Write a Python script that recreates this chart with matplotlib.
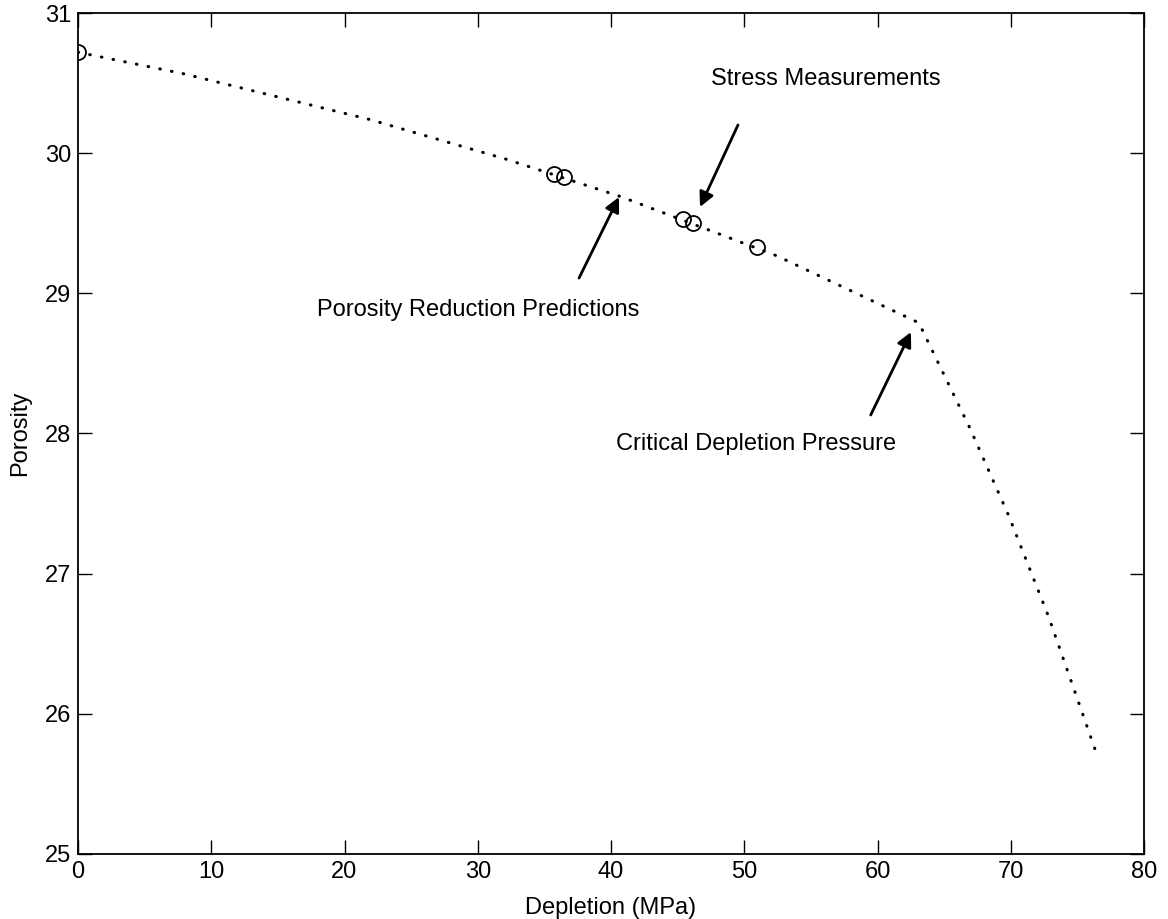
import matplotlib
matplotlib.use('Agg')
import matplotlib.pyplot as plt

plt.rcParams['font.family'] = ['Liberation Sans', 'DejaVu Sans']

# curva de prediccion de porosidad vs depletacion
depletion_pred = [0.0, 7.9, 21.9, 32.17, 40.73, 52.43, 63.1, 66.94, 69.84, 72.82, 76.37]
porosity_pred = [30.72, 30.567, 30.24, 29.956, 29.69, 29.268, 28.79, 28.037, 27.415, 26.698, 25.735]

# puntos medidos (esfuerzos)
depletion_meas = [0.0, 35.75, 36.47, 45.38, 46.13, 50.93]
porosity_meas = [30.72, 29.85, 29.83, 29.53, 29.50, 29.33]

xticks = [0, 10, 20, 30, 40, 50, 60, 70, 80]
yticks = [25, 26, 27, 28, 29, 30, 31]

fig = plt.figure(figsize=(11.68, 9.19), dpi=100)
ax = fig.add_axes([78 / 1168, 65 / 919, (1144 - 78) / 1168, (854 - 13) / 919])

ax.plot(depletion_pred, porosity_pred, color='black', linewidth=2.2,
        linestyle=(0, (0.2, 3.7)), dash_capstyle='round')
ax.plot(depletion_meas, porosity_meas, linestyle='none', marker='o', markersize=10.8,
        markerfacecolor='none', markeredgecolor='black', markeredgewidth=1.3)

# flechas y etiquetas
arrow = dict(arrowstyle='-|>', color='black', lw=2, mutation_scale=22, shrinkA=0, shrinkB=0)
ax.annotate('', xy=(46.68, 29.616), xytext=(49.53, 30.201), arrowprops=arrow)
ax.text(56.13, 30.529, 'Stress Measurements', fontsize=17, ha='center', va='center')
ax.annotate('', xy=(40.60, 29.687), xytext=(37.60, 29.109), arrowprops=arrow)
ax.text(30.02, 28.881, 'Porosity Reduction Predictions', fontsize=17, ha='center', va='center')
ax.annotate('', xy=(62.51, 28.724), xytext=(59.49, 28.132), arrowprops=arrow)
ax.text(50.88, 27.925, 'Critical Depletion Pressure', fontsize=17, ha='center', va='center')

ax.set_xlim(0, 80)
ax.set_ylim(25, 31)
ax.set_xticks(xticks)
ax.set_yticks(yticks)
ax.tick_params(direction='in', length=10, width=1, top=True, right=True, labelsize=17, pad=5)
for s in ax.spines.values():
    s.set_linewidth(1.3)

ax.set_xlabel('Depletion (MPa)', fontsize=17, labelpad=10)
ax.set_ylabel('Porosity', fontsize=17, labelpad=10)

plt.savefig('out.png', dpi=100)
plt.close(fig)
